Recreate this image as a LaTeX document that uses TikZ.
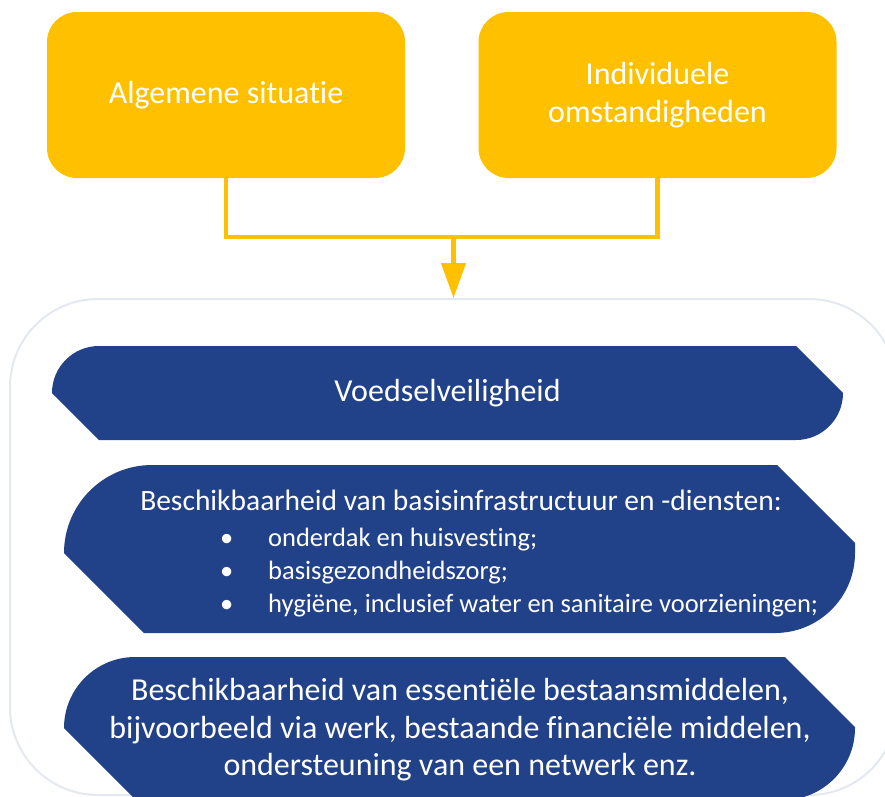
\documentclass[tikz,border=0pt]{standalone}
\usepackage{fontspec}
\setmainfont{Carlito}[Ligatures=NoCommon]
\usetikzlibrary{arrows.meta}
\definecolor{geel}{RGB}{255,192,0}
\definecolor{blauw}{RGB}{33,65,137}
\definecolor{kader}{RGB}{228,232,239}

\begin{document}
\begin{tikzpicture}[x=1pt, y=1pt,
	topbox/.style={fill=geel, rounded corners=30pt, minimum width=358pt, minimum height=166pt, text=white, align=center, font=\fontsize{32}{38}\selectfont},
	band/.style={fill=blauw},
	bandtext/.style={text=white, align=center, inner sep=0pt}]
				\useasboundingbox (0,0) rectangle (885,-796);
				\clip (0,0) rectangle (885,-796);
				\node [draw=kader, line width=2pt, rounded corners=88pt, minimum width=887pt, minimum height=496pt, inner sep=0pt] (kader) at (453.5,-547) {};
				\node [topbox] (algemeen) at (226,-95) {Algemene situatie};
				\node [topbox] (individueel) at (657.5,-95) {Individuele\\omstandigheden};
				\coordinate (splits) at (kader.north |- 0,-237);
				\draw [geel, line width=4.5pt] (algemeen.south) |- (splits) -| (individueel.south);
				\draw [geel, line width=4.5pt, -{Triangle[width=24pt, length=35pt]}] (splits) -- (kader.north);
				\fill [band] (52,-393) arc [start angle=180, end angle=90, radius=47] -- (796,-346) -- (843,-393) arc [start angle=0, end angle=-90, radius=47] -- (99,-440) -- cycle;
				\node [bandtext, font=\fontsize{32}{38}\selectfont] (voedsel) at (447.5,-393) {Voedselveiligheid};
				\fill [band] (64,-553) arc [start angle=180, end angle=90, radius=88] -- (777,-465) -- (855,-543) -- (855,-553) arc [start angle=0, end angle=-90, radius=80] -- (144,-633) -- cycle;
				\node [bandtext, anchor=base, font=\fontsize{29.5}{36}\selectfont] (infra) at (461,-510) {Beschikbaarheid van basisinfrastructuur en -diensten:};
				\foreach \tekst [count=\i] in {onderdak en huisvesting;, basisgezondheidszorg;, {hygiëne, inclusief water en sanitaire voorzieningen;}}
				\node [bandtext, anchor=base west, font=\fontsize{26.5}{33}\selectfont] (punt\i) at (220,{-546-33*(\i-1)}) {\makebox[48pt][l]{\textbullet}\tekst};
				\fill [band] (64,-728) arc [start angle=180, end angle=90, radius=71] -- (785,-657) -- (855,-727) -- (855,-728) arc [start angle=0, end angle=-90, radius=72] -- (136,-800) -- cycle;
				\node [bandtext, font=\fontsize{32}{37.5}\selectfont] (middelen) at (460,-730) {Beschikbaarheid van essentiële bestaansmiddelen,\\bijvoorbeeld via werk, bestaande financiële middelen,\\ondersteuning van een netwerk enz.};
\end{tikzpicture}
\end{document}
